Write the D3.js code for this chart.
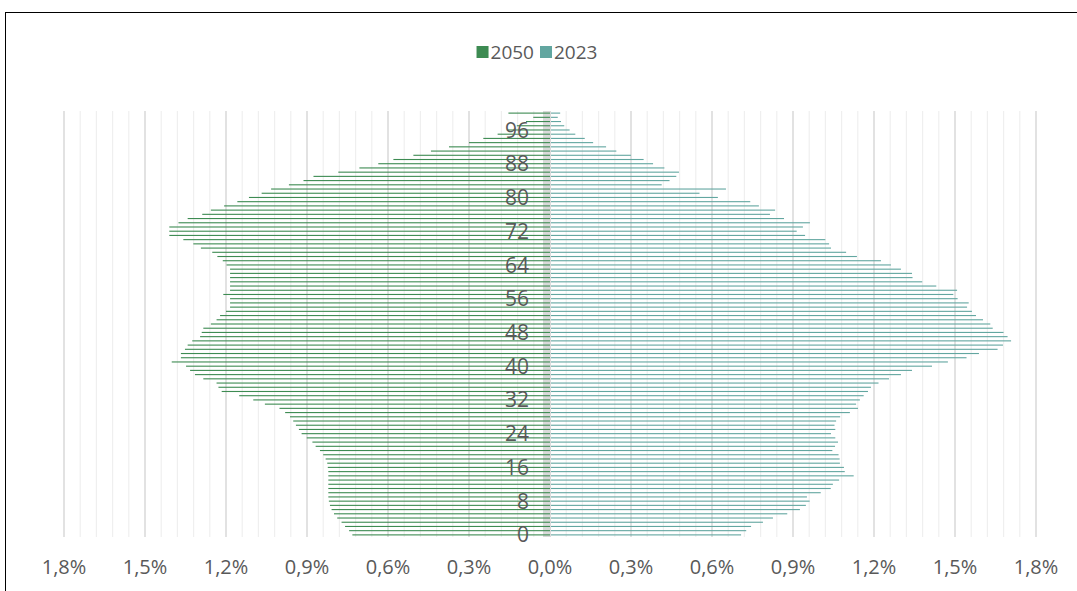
<!DOCTYPE html>
<html>
<head>
<meta charset="utf-8">
<script src="https://cdn.jsdelivr.net/npm/d3@7"></script>
<style>
  body { margin: 0; background: #fff; }
  svg { display: block; font-family: "Open Sans", sans-serif; }
</style>
</head>
<body>
<svg width="1077" height="591"></svg>
<script>
// ages 0..100
const ages = d3.range(0, 101);

// share of population (%) per single age
const pop2050 = [
  0.732, 0.744, 0.759, 0.772, 0.788, 0.800, 0.809, 0.815, 0.819, 0.821,
  0.821, 0.821, 0.821, 0.821, 0.821, 0.821, 0.823, 0.825, 0.831, 0.840,
  0.852, 0.868, 0.880, 0.901, 0.920, 0.930, 0.941, 0.951, 0.963, 0.981,
  1.002, 1.056, 1.099, 1.151, 1.216, 1.228, 1.235, 1.284, 1.315, 1.333,
  1.348, 1.401, 1.367, 1.367, 1.352, 1.342, 1.325, 1.296, 1.290, 1.284,
  1.256, 1.235, 1.222, 1.200, 1.185, 1.185, 1.185, 1.210, 1.185, 1.185,
  1.185, 1.185, 1.185, 1.185, 1.198, 1.212, 1.232, 1.251, 1.293, 1.321,
  1.358, 1.410, 1.410, 1.410, 1.376, 1.342, 1.288, 1.256, 1.207, 1.158,
  1.115, 1.068, 1.033, 0.967, 0.913, 0.876, 0.784, 0.706, 0.636, 0.580,
  0.506, 0.441, 0.374, 0.300, 0.247, 0.194, 0.160, 0.123, 0.089, 0.062,
  0.154
];
const pop2023 = [
  0.704, 0.723, 0.741, 0.785, 0.822, 0.875, 0.922, 0.944, 0.958, 0.948,
  0.999, 1.036, 1.044, 1.067, 1.121, 1.088, 1.085, 1.070, 1.069, 1.065,
  1.042, 1.052, 1.063, 1.053, 1.037, 1.053, 1.050, 1.056, 1.071, 1.107,
  1.137, 1.130, 1.144, 1.158, 1.174, 1.185, 1.213, 1.252, 1.296, 1.337,
  1.411, 1.470, 1.539, 1.585, 1.654, 1.674, 1.704, 1.691, 1.676, 1.636,
  1.627, 1.600, 1.574, 1.559, 1.541, 1.547, 1.506, 1.490, 1.504, 1.427,
  1.375, 1.339, 1.337, 1.296, 1.259, 1.222, 1.133, 1.093, 1.037, 1.030,
  1.016, 0.941, 0.910, 0.933, 0.959, 0.863, 0.811, 0.830, 0.770, 0.738,
  0.618, 0.550, 0.648, 0.410, 0.439, 0.464, 0.474, 0.420, 0.378, 0.343,
  0.296, 0.242, 0.204, 0.156, 0.125, 0.090, 0.069, 0.049, 0.037, 0.025,
  0.034
];

const xTicks = [-1.8, -1.5, -1.2, -0.9, -0.6, -0.3, 0, 0.3, 0.6, 0.9, 1.2, 1.5, 1.8];
const yTickAges = d3.range(0, 97, 8);
const seriesNames = ["2050", "2023"];
const colors = ["#3d8b52", "#62a6a0"];

const plotTop = 111, plotBottom = 537;

const svg = d3.select("svg");

// outer border (chart is cut off at right / bottom)
svg.append("rect")
  .attr("x", 5.5).attr("y", 12.5)
  .attr("width", 1100).attr("height", 700)
  .attr("fill", "none")
  .attr("stroke", "#000")
  .attr("stroke-width", 1);

const x = d3.scaleLinear()
  .domain([-1.8, 1.8])
  .range([64, 1036]);

const y = d3.scaleBand()
  .domain(ages.slice().reverse())
  .range([plotTop, plotBottom]);

// minor gridlines every 0.06
const minor = d3.range(-30, 31).map(i => i * 0.06).filter((d, i) => (i % 5) !== 0);
svg.append("g").selectAll("line").data(minor).enter().append("line")
  .attr("x1", d => x(d)).attr("x2", d => x(d))
  .attr("y1", plotTop).attr("y2", plotBottom)
  .attr("stroke", "#efefef")
  .attr("stroke-width", 1.2);

// major gridlines
svg.append("g").selectAll("line").data(xTicks.filter(d => d !== 0)).enter().append("line")
  .attr("x1", d => x(d)).attr("x2", d => x(d))
  .attr("y1", plotTop).attr("y2", plotBottom)
  .attr("stroke", "#d6d6d6")
  .attr("stroke-width", 1.4);

// vertical axis band
svg.append("rect")
  .attr("x", x(0) - 7).attr("y", plotTop)
  .attr("width", 8).attr("height", plotBottom - plotTop)
  .attr("fill", "#dadada");

const barH = 1.1;

// 2050 on the left
svg.append("g").selectAll("rect").data(ages).enter().append("rect")
  .attr("x", d => x(-pop2050[d]))
  .attr("y", d => y(d) + y.bandwidth() / 2 - barH / 2)
  .attr("width", d => x(0) - x(-pop2050[d]))
  .attr("height", barH)
  .attr("fill", colors[0]);

// 2023 on the right
svg.append("g").selectAll("rect").data(ages).enter().append("rect")
  .attr("x", x(0) + 1)
  .attr("y", d => y(d) + y.bandwidth() / 2 - barH / 2)
  .attr("width", d => x(pop2023[d]) - x(0))
  .attr("height", barH)
  .attr("fill", colors[1]);

// age labels
svg.append("g").selectAll("text").data(yTickAges).enter().append("text")
  .attr("x", 529)
  .attr("y", d => y(d) + y.bandwidth() / 2)
  .attr("dy", "0.36em")
  .attr("text-anchor", "end")
  .attr("font-size", 21)
  .attr("fill", "#595959")
  .text(d => d);

// percent labels
const fmt = d => d3.format(".1f")(Math.abs(d)).replace(".", ",") + "%";
svg.append("g").selectAll("text").data(xTicks).enter().append("text")
  .attr("x", d => x(d))
  .attr("y", 574)
  .attr("text-anchor", "middle")
  .attr("font-size", 20)
  .attr("fill", "#595959")
  .text(fmt);

// legend
const legend = svg.append("g");
let lx = 0;
seriesNames.forEach((name, i) => {
  legend.append("rect")
    .attr("x", lx).attr("y", -6)
    .attr("width", 12).attr("height", 12)
    .attr("fill", colors[i]);
  const t = legend.append("text")
    .attr("x", lx + 14).attr("y", 0)
    .attr("dy", "0.36em")
    .attr("font-size", 19)
    .attr("fill", "#595959")
    .text(name);
  lx += 14 + t.node().getComputedTextLength() + 6;
});
legend.attr("transform", `translate(${537 - (lx - 6) / 2}, 52)`);
</script>
</body>
</html>
